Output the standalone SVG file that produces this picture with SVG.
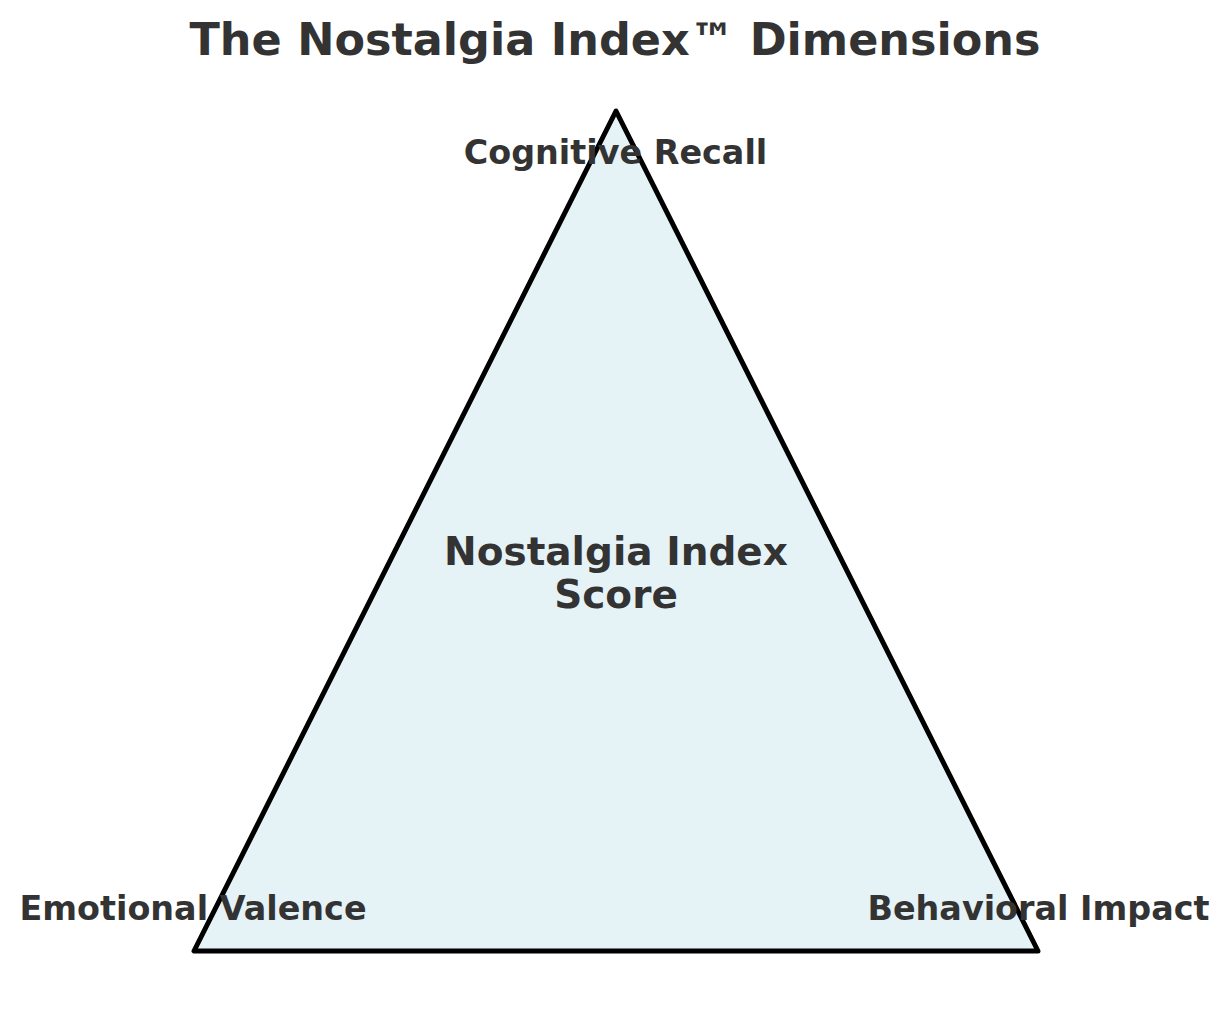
<svg xmlns="http://www.w3.org/2000/svg" width="1229" height="1014" viewBox="0 0 1229 1014">
<style>
text{font-family:"DejaVu Sans","Liberation Sans",sans-serif;font-weight:bold;fill:#333333;text-anchor:middle}
.title{font-size:44.5px}
.label{font-size:33.4px}
.center{font-size:39px}
</style>
<rect width="1229" height="1014" fill="#ffffff"/>
<g id="triangle">
<polygon points="616,111 194,951 1038,951" fill="#e5f2f6" stroke="#000000" stroke-width="5" stroke-linejoin="round"/>
</g>
<g id="connectors"></g>
<text class="title" x="615" y="55">The Nostalgia Index™ Dimensions</text>
<g id="node-cognitive"><text class="label" x="615.5" y="164">Cognitive Recall</text></g>
<g id="node-emotional"><text class="label" x="193" y="920">Emotional Valence</text></g>
<g id="node-behavioral"><text class="label" x="1038.5" y="920">Behavioral Impact</text></g>
<g id="node-center"><text class="center" x="616" y="565">Nostalgia Index</text><text class="center" x="616" y="608">Score</text></g>
</svg>
